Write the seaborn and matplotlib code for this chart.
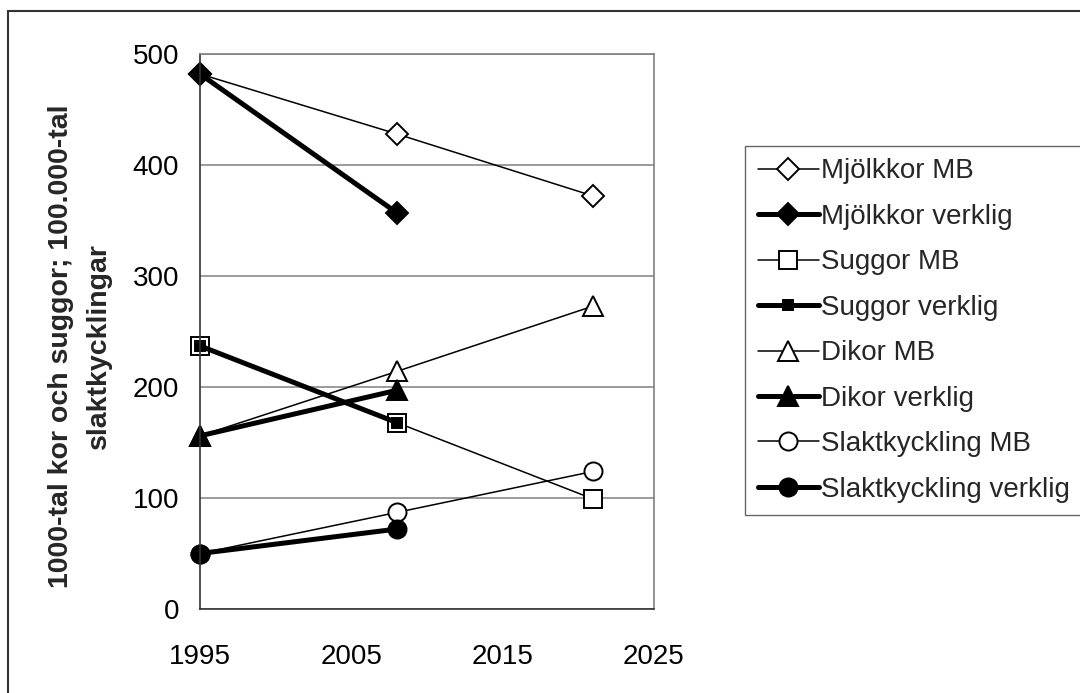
import matplotlib
matplotlib.use("Agg")
import matplotlib.pyplot as plt
import seaborn as sns
import pandas as pd
from matplotlib.patches import Rectangle

sns.set_style("white")
plt.rcParams['font.family'] = ['Liberation Sans', 'DejaVu Sans']

years_mb = [1995, 2008, 2021]
years_verklig = [1995, 2008]

mjolk_mb = [482, 428, 372]
mjolk_verklig = [482, 357]
suggor_mb = [237, 168, 99]
suggor_verklig = [237, 168]
dikor_mb = [156, 214, 273]
dikor_verklig = [156, 197]
slakt_mb = [50, 87, 124]
slakt_verklig = [50, 72]

labels = ["Mjölkkor MB", "Mjölkkor verklig", "Suggor MB", "Suggor verklig",
          "Dikor MB", "Dikor verklig", "Slaktkyckling MB", "Slaktkyckling verklig"]
series = [(years_mb, mjolk_mb), (years_verklig, mjolk_verklig),
          (years_mb, suggor_mb), (years_verklig, suggor_verklig),
          (years_mb, dikor_mb), (years_verklig, dikor_verklig),
          (years_mb, slakt_mb), (years_verklig, slakt_verklig)]

styles = [
    dict(marker="D", markersize=11, markerfacecolor="white", linewidth=1.1),
    dict(marker="D", markersize=11, markerfacecolor="black", linewidth=3.6),
    dict(marker="s", markersize=13, markerfacecolor="white", linewidth=1.1),
    dict(marker="s", markersize=7, markerfacecolor="black", linewidth=3.6),
    dict(marker="^", markersize=15, markerfacecolor="white", linewidth=1.1),
    dict(marker="^", markersize=15, markerfacecolor="black", linewidth=3.6),
    dict(marker="o", markersize=13, markerfacecolor="white", linewidth=1.1),
    dict(marker="o", markersize=13, markerfacecolor="black", linewidth=3.6),
]

fig = plt.figure(figsize=(10.8, 6.93), dpi=100)
ax = fig.add_axes([200/1080, 1 - 609/693, (654-200)/1080, (609-54)/693])

for lab, (xs, ys), st in zip(labels, series, styles):
    df = pd.DataFrame({"x": xs, "y": ys})
    sns.lineplot(data=df, x="x", y="y", ax=ax, color="black",
                 markeredgecolor="black", markeredgewidth=1.4,
                 label=lab, clip_on=False, **st)

ax.set_xlim(1995, 2025)
ax.set_ylim(0, 500)
ax.set_xticks([1995, 2005, 2015, 2025])
ax.set_yticks([0, 100, 200, 300, 400, 500])
ax.yaxis.grid(True, color="#808080", linewidth=1.1)
ax.xaxis.grid(False)
ax.tick_params(axis="both", labelsize=20, colors="black", length=7,
               width=1.1, direction="out", pad=8)
ax.tick_params(axis="x", pad=18)
ax.spines["left"].set_color("#333333")
ax.spines["bottom"].set_color("#333333")
ax.spines["top"].set_color("#808080")
ax.spines["right"].set_color("#808080")
for s in ax.spines.values():
    s.set_linewidth(1.2)
ax.set_xlabel("")
ax.set_ylabel("1000-tal kor och suggor; 100.000-tal\nslaktkycklingar",
              fontsize=20.5, fontweight="bold", linespacing=1.58)
ax.yaxis.set_label_coords(80/1080, 0.5, transform=fig.transFigure)
ax.yaxis.label.set_va("center")

leg = ax.legend(loc="upper left", bbox_to_anchor=(745/1080, 1 - 146/693),
                bbox_transform=fig.transFigure, fontsize=20, frameon=True,
                fancybox=False, edgecolor="#404040", handlelength=2.2,
                handletextpad=0.08, borderpad=0.45, labelspacing=0.7,
                borderaxespad=0)
leg.get_frame().set_linewidth(1.0)

fig.patches.append(Rectangle((8/1080, -0.1), 1.2, 1 - 11/693 + 0.1,
                             transform=fig.transFigure, fill=False,
                             edgecolor="#333333", linewidth=1.5))

fig.savefig("out.png", dpi=100, facecolor="white")
